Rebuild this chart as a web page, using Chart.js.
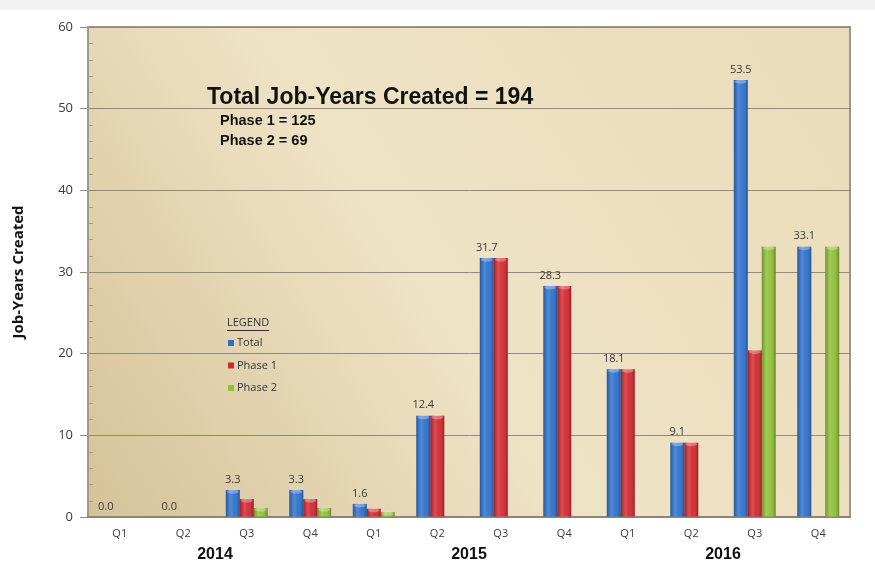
<!DOCTYPE html>
<html>
<head>
<meta charset="utf-8">
<script src="https://cdn.jsdelivr.net/npm/chart.js@4/dist/chart.umd.min.js"></script>
<style>
    html, body { margin: 0; padding: 0; }
    body {
        width: 875px; height: 567px; overflow: hidden;
        background: linear-gradient(#f2f2f2 0, #f2f2f2 9px, #ffffff 11px);
    }
    #wrap { position: relative; width: 875px; height: 567px; }
</style>
</head>
<body>
<div id="wrap"><canvas id="jobsChart"></canvas></div>
<script>
const quarters = ['Q1', 'Q2', 'Q3', 'Q4', 'Q1', 'Q2', 'Q3', 'Q4', 'Q1', 'Q2', 'Q3', 'Q4'];
const years = ['2014', '2015', '2016'];
const totalJobs = [0, 0, 3.3, 3.3, 1.6, 12.4, 31.7, 28.3, 18.1, 9.1, 53.5, 33.1];
const phase1Jobs = [0, 0, 2.2, 2.2, 1.0, 12.4, 31.7, 28.3, 18.1, 9.1, 20.4, 0];
const phase2Jobs = [0, 0, 1.1, 1.1, 0.6, 0, 0, 0, 0, 0, 33.1, 33.1];
const seriesNames = ['Total', 'Phase 1', 'Phase 2'];
const summaryLines = ['Total Job-Years Created = 194', 'Phase 1 = 125', 'Phase 2 = 69'];

const barColors = ['#2d70cc', '#d2272e', '#8fbf34'];
const bodyFont = "'Open Sans', 'Liberation Sans', sans-serif";

// plot area background + frame
const plotBackground = {
    id: 'plotBackground',
    beforeDraw(chart) {
        const { ctx, chartArea: a } = chart;
        ctx.save();
        const g = ctx.createLinearGradient(a.left, a.bottom, a.right, a.top);
        g.addColorStop(0, '#d5c298');
        g.addColorStop(0.45, '#efe3c6');
        g.addColorStop(1, '#eadcba');
        ctx.fillStyle = g;
        ctx.fillRect(a.left, a.top, a.right - a.left, a.bottom - a.top);
        ctx.strokeStyle = '#9c968a';
        ctx.lineWidth = 2;
        ctx.beginPath();
        ctx.moveTo(a.left, a.top);
        ctx.lineTo(a.right, a.top);
        ctx.lineTo(a.right, a.bottom);
        ctx.stroke();
        ctx.restore();
    },
    beforeDatasetsDraw(chart) {
        // minor ticks on the value axis, every 2 units
        const { ctx, chartArea: a, scales: { y } } = chart;
        ctx.save();
        ctx.strokeStyle = '#a59d8c';
        ctx.lineWidth = 1;
        for (let v = y.min; v <= y.max; v += 2) {
            if (v % 10 === 0) continue;
            const py = Math.round(y.getPixelForValue(v)) + 0.5;
            ctx.beginPath();
            ctx.moveTo(a.left, py);
            ctx.lineTo(a.left + 5, py);
            ctx.stroke();
        }
        ctx.restore();
    }
};

// cylinder-like shading on the bars, plus value labels above the Total bars
const barShading = {
    id: 'barShading',
    afterDatasetsDraw(chart) {
        const { ctx } = chart;
        ctx.save();
        chart.data.datasets.forEach((ds, di) => {
            chart.getDatasetMeta(di).data.forEach(bar => {
                const { x, y, base, width } = bar.getProps(['x', 'y', 'base', 'width'], true);
                const h = base - y;
                if (h < 1) return;
                const l = x - width / 2;
                const g = ctx.createLinearGradient(l, 0, l + width, 0);
                g.addColorStop(0, 'rgba(0,0,0,0.22)');
                g.addColorStop(0.35, 'rgba(255,255,255,0.18)');
                g.addColorStop(0.6, 'rgba(255,255,255,0.05)');
                g.addColorStop(1, 'rgba(0,0,0,0.28)');
                ctx.fillStyle = g;
                ctx.fillRect(l, y, width, h);
                ctx.fillStyle = 'rgba(255,255,255,0.3)';
                ctx.beginPath();
                ctx.ellipse(x, y + 1.5, width / 2 - 1, 2, 0, 0, Math.PI * 2);
                ctx.fill();
            });
        });

        const meta = chart.getDatasetMeta(0);
        ctx.font = `11px ${bodyFont}`;
        ctx.fillStyle = '#3a3a3a';
        ctx.textAlign = 'center';
        ctx.textBaseline = 'bottom';
        meta.data.forEach((bar, i) => {
            ctx.fillText(totalJobs[i].toFixed(1), bar.x, bar.y - 5);
        });
        ctx.restore();
    }
};

// summary text and in-plot legend
const annotations = {
    id: 'annotations',
    afterDraw(chart) {
        const { ctx } = chart;
        ctx.save();
        ctx.fillStyle = '#111';
        ctx.textBaseline = 'middle';
        ctx.textAlign = 'left';
        ctx.font = "bold 23px 'Liberation Sans', Arial, sans-serif";
        ctx.fillText(summaryLines[0], 207, 98);
        ctx.font = "bold 14.5px 'Liberation Sans', Arial, sans-serif";
        ctx.fillText(summaryLines[1], 220, 121);
        ctx.fillText(summaryLines[2], 220, 141);

        ctx.fillStyle = '#333';
        ctx.font = `11px ${bodyFont}`;
        ctx.fillText('LEGEND', 227, 323);
        const w = ctx.measureText('LEGEND').width;
        ctx.strokeStyle = '#333';
        ctx.lineWidth = 1;
        ctx.beginPath();
        ctx.moveTo(227, 330.5);
        ctx.lineTo(227 + w, 330.5);
        ctx.stroke();

        chart.data.datasets.forEach((ds, i) => {
            const y = 343 + i * 22.5;
            ctx.fillStyle = ds.backgroundColor;
            ctx.fillRect(228, y - 3, 6, 6);
            ctx.fillStyle = '#333';
            ctx.fillText(ds.label, 237, y);
        });
        ctx.restore();
    }
};

new Chart(document.getElementById('jobsChart'), {
    type: 'bar',
    data: {
        labels: quarters,
        datasets: [
            { label: seriesNames[0], data: totalJobs, backgroundColor: barColors[0] },
            { label: seriesNames[1], data: phase1Jobs, backgroundColor: barColors[1] },
            { label: seriesNames[2], data: phase2Jobs, backgroundColor: barColors[2] }
        ]
    },
    options: {
        responsive: true,
        maintainAspectRatio: false,
        animation: false,
        datasets: {
            bar: { categoryPercentage: 0.66, barPercentage: 1.0, borderWidth: 0 }
        },
        layout: { padding: { top: 27, right: 25, left: 0, bottom: 0 } },
        plugins: {
            legend: { display: false },
            tooltip: { enabled: false }
        },
        scales: {
            y: {
                min: 0,
                max: 60,
                ticks: {
                    stepSize: 10,
                    padding: 7,
                    color: '#3a3a3a',
                    font: { family: bodyFont, size: 13 }
                },
                grid: { color: '#8f8a7c', lineWidth: 1, tickLength: 8 },
                border: { display: true, color: '#a19a8a', width: 2 },
                title: {
                    display: true,
                    text: 'Job-Years Created',
                    color: '#111',
                    font: { family: bodyFont, size: 15, weight: 'bold' },
                    padding: { top: 10, bottom: 0 }
                },
                afterFit(scale) { scale.width = 88; }
            },
            x: {
                grid: { display: false, drawTicks: false },
                border: { display: true, color: '#8a8578', width: 2 },
                ticks: {
                    padding: 10,
                    color: '#3a3a3a',
                    font: { family: bodyFont, size: 11 }
                },
                afterFit(scale) { scale.height = 26; }
            },
            x2: {
                type: 'category',
                labels: years,
                position: 'bottom',
                offset: true,
                grid: { display: false, drawTicks: false },
                border: { display: false },
                ticks: {
                    padding: 2,
                    color: '#111',
                    font: { family: "'Liberation Sans', Arial, sans-serif", size: 16, weight: 'bold' }
                },
                afterFit(scale) { scale.height = 24; }
            }
        }
    },
    plugins: [plotBackground, barShading, annotations]
});
</script>
</body>
</html>
